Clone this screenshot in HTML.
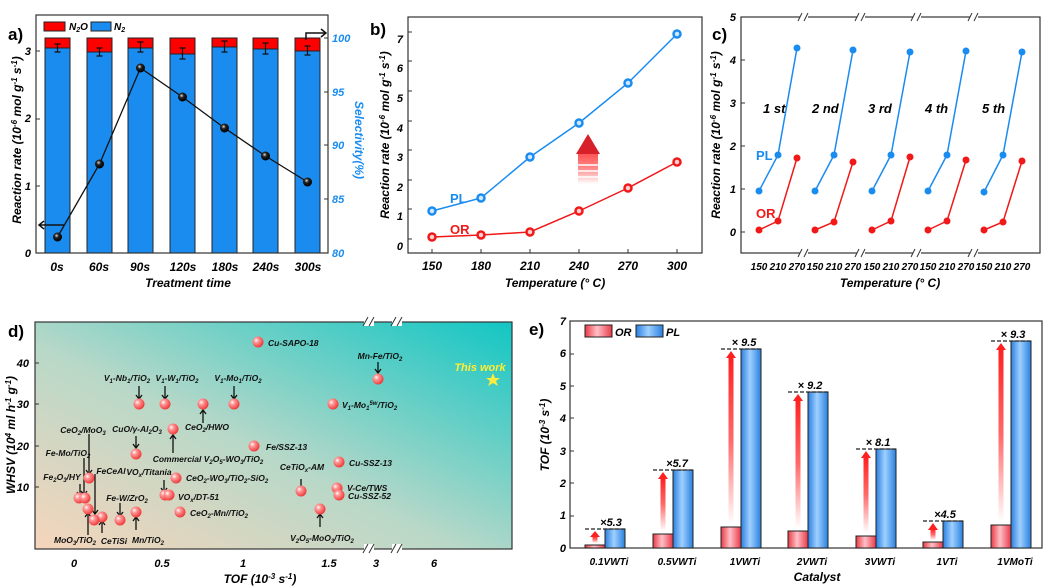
<!DOCTYPE html>
<html><head><meta charset="utf-8"><style>
body{margin:0;background:#fff}
svg{display:block;font-family:"Liberation Sans",Arial,sans-serif;font-weight:bold;font-style:italic}
</style></head><body>
<svg width="1043" height="586" viewBox="0 0 1043 586" xmlns="http://www.w3.org/2000/svg">
<defs>
<radialGradient id="ball" cx="0.35" cy="0.35" r="0.7"><stop offset="0" stop-color="#fff"/><stop offset="0.3" stop-color="#f99"/><stop offset="1" stop-color="#e33"/></radialGradient>
<radialGradient id="bk" cx="0.4" cy="0.35" r="0.6"><stop offset="0" stop-color="#ddd"/><stop offset="0.4" stop-color="#222"/><stop offset="1" stop-color="#000"/></radialGradient>
<linearGradient id="bgd" x1="0" y1="1" x2="1" y2="0"><stop offset="0" stop-color="#f6d5bb"/><stop offset="0.45" stop-color="#b8d8c8"/><stop offset="1" stop-color="#12c6c4"/></linearGradient>
<linearGradient id="rb" x1="0" y1="0" x2="1" y2="0"><stop offset="0" stop-color="#ea3a44"/><stop offset="0.45" stop-color="#ffc0c8"/><stop offset="1" stop-color="#e83a48"/></linearGradient>
<linearGradient id="bb" x1="0" y1="0" x2="1" y2="0"><stop offset="0" stop-color="#2a7fe0"/><stop offset="0.45" stop-color="#9fd0ff"/><stop offset="1" stop-color="#2a80e0"/></linearGradient>
<linearGradient id="ar" x1="0" y1="1" x2="0" y2="0"><stop offset="0" stop-color="#ff2a2a" stop-opacity="0"/><stop offset="0.5" stop-color="#ff2a2a" stop-opacity="0.7"/><stop offset="1" stop-color="#ff2020"/></linearGradient>
</defs>

<!-- ===== Panel a ===== -->
<text x="8" y="40" font-size="17" font-style="normal">a)</text>
<g stroke="#222" stroke-width="1">
<rect x="45" y="38" width="25" height="10" fill="#f00"/><rect x="45" y="48" width="25" height="205" fill="#1a8cf0"/>
<rect x="87" y="38" width="25" height="14" fill="#f00"/><rect x="87" y="52" width="25" height="201" fill="#1a8cf0"/>
<rect x="128" y="38" width="25" height="10" fill="#f00"/><rect x="128" y="48" width="25" height="205" fill="#1a8cf0"/>
<rect x="170" y="38" width="25" height="16" fill="#f00"/><rect x="170" y="54" width="25" height="199" fill="#1a8cf0"/>
<rect x="212" y="38" width="25" height="9" fill="#f00"/><rect x="212" y="47" width="25" height="206" fill="#1a8cf0"/>
<rect x="253" y="38" width="25" height="11" fill="#f00"/><rect x="253" y="49" width="25" height="204" fill="#1a8cf0"/>
<rect x="295" y="38" width="25" height="13" fill="#f00"/><rect x="295" y="51" width="25" height="202" fill="#1a8cf0"/>
</g>
<g stroke="#111" stroke-width="1.2" fill="none">
<path d="M57.5 44v8M54.5 44h6M54.5 52h6M99.5 48v8M96.5 48h6M96.5 56h6M140.5 42v10M137.5 42h6M137.5 52h6M182.5 48v11M179.5 48h6M179.5 59h6M224.5 41v11M221.5 41h6M221.5 52h6M265.5 43v11M262.5 43h6M262.5 54h6M307.5 46v9M304.5 46h6M304.5 55h6"/>
<polyline points="57.5,237 99.5,164 140.5,68 182.5,97 224.5,128 265.5,156 307.5,182" stroke="#111" stroke-width="1.3"/>
<path d="M64 225H40M44 221l-5 4 5 4" stroke-width="1.5"/>
<path d="M306 40v-7h20M321 29l5 4-5 4" stroke-width="1.5"/>
</g>
<g fill="url(#bk)"><circle cx="57.5" cy="237" r="4.5"/><circle cx="99.5" cy="164" r="4.5"/><circle cx="140.5" cy="68" r="4.5"/><circle cx="182.5" cy="97" r="4.5"/><circle cx="224.5" cy="128" r="4.5"/><circle cx="265.5" cy="156" r="4.5"/><circle cx="307.5" cy="182" r="4.5"/></g>
<rect x="36" y="15" width="292" height="238" fill="none" stroke="#333" stroke-width="1.2"/>
<rect x="44" y="22" width="21" height="9" fill="#f00" stroke="#222"/><text x="69" y="30" font-size="10">N<tspan font-size="7" dy="2">2</tspan><tspan dy="-2">O</tspan></text>
<rect x="91" y="22" width="20" height="9" fill="#1a8cf0" stroke="#222"/><text x="114" y="30" font-size="10">N<tspan font-size="7" dy="2">2</tspan></text>
<g font-size="11" text-anchor="end"><text x="31" y="257">0</text><text x="31" y="190">1</text><text x="31" y="122">2</text><text x="31" y="55">3</text></g>
<g stroke="#333"><path d="M36 186h4M36 119h4M36 51h4M328 38h-4M328 92h-4M328 145h-4M328 199h-4"/></g>
<g font-size="11" fill="#1a8cf0"><text x="332" y="42">100</text><text x="332" y="96">95</text><text x="332" y="149">90</text><text x="332" y="203">85</text><text x="332" y="257">80</text></g>
<g font-size="12" text-anchor="middle"><text x="57" y="271">0s</text><text x="99" y="271">60s</text><text x="140" y="271">90s</text><text x="183" y="271">120s</text><text x="225" y="271">180s</text><text x="266" y="271">240s</text><text x="308" y="271">300s</text></g>
<text x="188" y="287" font-size="12" text-anchor="middle">Treatment time</text>
<text transform="translate(21,140) rotate(-90)" font-size="12" text-anchor="middle">Reaction rate (10<tspan font-size="8" dy="-4">-6</tspan><tspan dy="4"> mol g</tspan><tspan font-size="8" dy="-4">-1</tspan><tspan dy="4"> s</tspan><tspan font-size="8" dy="-4">-1</tspan><tspan dy="4">)</tspan></text>
<text transform="translate(355,140) rotate(90)" font-size="12" text-anchor="middle" fill="#1a8cf0">Selectivity(%)</text>

<!-- ===== Panel b ===== -->
<text x="370" y="35" font-size="17" font-style="normal">b)</text>
<rect x="408" y="17" width="294" height="236" fill="none" stroke="#333" stroke-width="1.2"/>
<g font-size="11" text-anchor="end"><text x="403" y="250">0</text><text x="403" y="220">1</text><text x="403" y="191">2</text><text x="403" y="161">3</text><text x="403" y="132">4</text><text x="403" y="102">5</text><text x="403" y="72">6</text><text x="403" y="43">7</text></g>
<g stroke="#333"><path d="M408 239h4M408 209h4M408 180h4M408 150h4M408 121h4M408 91h4M408 61h4M408 32h4M432 253v-4M481 253v-4M530 253v-4M579 253v-4M628 253v-4M677 253v-4"/></g>
<g font-size="12" text-anchor="middle"><text x="432" y="270">150</text><text x="481" y="270">180</text><text x="530" y="270">210</text><text x="579" y="270">240</text><text x="628" y="270">270</text><text x="677" y="270">300</text></g>
<text x="555" y="287" font-size="12" text-anchor="middle">Temperature (° C)</text>
<text transform="translate(389,135) rotate(-90)" font-size="12" text-anchor="middle">Reaction rate (10<tspan font-size="8" dy="-4">-6</tspan><tspan dy="4"> mol g</tspan><tspan font-size="8" dy="-4">-1</tspan><tspan dy="4"> s</tspan><tspan font-size="8" dy="-4">-1</tspan><tspan dy="4">)</tspan></text>
<polyline points="432,211 481,198 530,157 579,123 628,83 677,34" fill="none" stroke="#1a8cf0" stroke-width="1.5"/>
<polyline points="432,237 481,235 530,232 579,211 628,188 677,162" fill="none" stroke="#f01818" stroke-width="1.5"/>
<g fill="#cfe6ff" stroke="#1a8cf0" stroke-width="2.5"><circle cx="432" cy="211" r="3.5"/><circle cx="481" cy="198" r="3.5"/><circle cx="530" cy="157" r="3.5"/><circle cx="579" cy="123" r="3.5"/><circle cx="628" cy="83" r="3.5"/><circle cx="677" cy="34" r="3.5"/></g>
<g fill="#ffd0d0" stroke="#f01818" stroke-width="2.5"><circle cx="432" cy="237" r="3.5"/><circle cx="481" cy="235" r="3.5"/><circle cx="530" cy="232" r="3.5"/><circle cx="579" cy="211" r="3.5"/><circle cx="628" cy="188" r="3.5"/><circle cx="677" cy="162" r="3.5"/></g>
<rect x="578" y="152" width="20" height="32" fill="url(#ar)" opacity="0.8"/>
<polygon points="576,154 588,134 600,154" fill="#d8202a"/>
<g stroke="#fff" stroke-width="1.5"><path d="M578 165h20M578 171h20M578 177h20"/></g>
<text x="450" y="203" font-size="13" font-style="normal" fill="#1a8cf0">PL</text>
<text x="450" y="234" font-size="13" font-style="normal" fill="#f01818">OR</text>

<!-- ===== Panel c ===== -->
<text x="712" y="40" font-size="17" font-style="normal">c)</text>
<rect x="741" y="17" width="299" height="236" fill="none" stroke="#333" stroke-width="1.2"/>
<g fill="#fff"><rect x="800" y="12" width="8" height="10"/><rect x="857" y="12" width="8" height="10"/><rect x="913" y="12" width="8" height="10"/><rect x="970" y="12" width="8" height="10"/><rect x="800" y="248" width="8" height="10"/><rect x="857" y="248" width="8" height="10"/><rect x="913" y="248" width="8" height="10"/><rect x="970" y="248" width="8" height="10"/></g>
<g stroke="#333" stroke-width="1"><path d="M798 21l4-8M804 21l4-8M855 21l4-8M861 21l4-8M911 21l4-8M917 21l4-8M968 21l4-8M974 21l4-8M798 257l4-8M804 257l4-8M855 257l4-8M861 257l4-8M911 257l4-8M917 257l4-8M968 257l4-8M974 257l4-8"/></g>
<g font-size="11" text-anchor="end"><text x="736" y="236">0</text><text x="736" y="193">1</text><text x="736" y="150">2</text><text x="736" y="107">3</text><text x="736" y="64">4</text><text x="736" y="21">5</text></g>
<g stroke="#333"><path d="M741 232h4M741 189h4M741 146h4M741 103h4M741 60h4"/></g>
<g font-size="10" text-anchor="middle">
<text x="759" y="270">150</text><text x="778" y="270">210</text><text x="797" y="270">270</text>
<text x="815" y="270">150</text><text x="834" y="270">210</text><text x="853" y="270">270</text>
<text x="872" y="270">150</text><text x="891" y="270">210</text><text x="910" y="270">270</text>
<text x="928" y="270">150</text><text x="947" y="270">210</text><text x="966" y="270">270</text>
<text x="984" y="270">150</text><text x="1003" y="270">210</text><text x="1022" y="270">270</text></g>
<text x="890" y="287" font-size="12" text-anchor="middle">Temperature (° C)</text>
<text transform="translate(720,135) rotate(-90)" font-size="12" text-anchor="middle">Reaction rate (10<tspan font-size="8" dy="-4">-6</tspan><tspan dy="4"> mol g</tspan><tspan font-size="8" dy="-4">-1</tspan><tspan dy="4"> s</tspan><tspan font-size="8" dy="-4">-1</tspan><tspan dy="4">)</tspan></text>
<g font-size="13"><text x="763" y="113">1 st</text><text x="812" y="113">2 nd</text><text x="868" y="113">3 rd</text><text x="925" y="113">4 th</text><text x="982" y="113">5 th</text></g>
<g fill="none" stroke-width="1.5">
<polyline stroke="#1a8cf0" points="759,191 778,155 797,48"/><polyline stroke="#1a8cf0" points="815,191 834,155 853,50"/><polyline stroke="#1a8cf0" points="872,191 891,155 910,52"/><polyline stroke="#1a8cf0" points="928,191 947,155 966,51"/><polyline stroke="#1a8cf0" points="984,192 1003,155 1022,52"/>
<polyline stroke="#f01818" points="759,230 778,221 797,158"/><polyline stroke="#f01818" points="815,230 834,222 853,162"/><polyline stroke="#f01818" points="872,230 891,221 910,157"/><polyline stroke="#f01818" points="928,230 947,221 966,160"/><polyline stroke="#f01818" points="984,230 1003,222 1022,161"/>
</g>
<g fill="#1a8cf0"><circle cx="759" cy="191" r="3.5"/><circle cx="778" cy="155" r="3.5"/><circle cx="797" cy="48" r="3.5"/><circle cx="815" cy="191" r="3.5"/><circle cx="834" cy="155" r="3.5"/><circle cx="853" cy="50" r="3.5"/><circle cx="872" cy="191" r="3.5"/><circle cx="891" cy="155" r="3.5"/><circle cx="910" cy="52" r="3.5"/><circle cx="928" cy="191" r="3.5"/><circle cx="947" cy="155" r="3.5"/><circle cx="966" cy="51" r="3.5"/><circle cx="984" cy="192" r="3.5"/><circle cx="1003" cy="155" r="3.5"/><circle cx="1022" cy="52" r="3.5"/></g>
<g fill="#f01818"><circle cx="759" cy="230" r="3.5"/><circle cx="778" cy="221" r="3.5"/><circle cx="797" cy="158" r="3.5"/><circle cx="815" cy="230" r="3.5"/><circle cx="834" cy="222" r="3.5"/><circle cx="853" cy="162" r="3.5"/><circle cx="872" cy="230" r="3.5"/><circle cx="891" cy="221" r="3.5"/><circle cx="910" cy="157" r="3.5"/><circle cx="928" cy="230" r="3.5"/><circle cx="947" cy="221" r="3.5"/><circle cx="966" cy="160" r="3.5"/><circle cx="984" cy="230" r="3.5"/><circle cx="1003" cy="222" r="3.5"/><circle cx="1022" cy="161" r="3.5"/></g>
<text x="756" y="160" font-size="13" font-style="normal" fill="#1a8cf0">PL</text>
<text x="756" y="218" font-size="13" font-style="normal" fill="#f01818">OR</text>

<!-- ===== Panel d ===== -->
<text x="8" y="337" font-size="17" font-style="normal">d)</text>
<rect x="35" y="322" width="477" height="227" fill="url(#bgd)" stroke="#333" stroke-width="1.2"/>
<g fill="#fff"><rect x="364" y="316" width="10" height="10"/><rect x="392" y="316" width="10" height="10"/><rect x="364" y="544" width="10" height="10"/><rect x="392" y="544" width="10" height="10"/></g>
<g stroke="#333"><path d="M363 326l5-9M369 326l5-9M391 326l5-9M397 326l5-9M363 553l5-9M369 553l5-9M391 553l5-9M397 553l5-9"/></g>
<g font-size="11" text-anchor="end"><text x="29" y="491">10</text><text x="29" y="450">20</text><text x="29" y="408">30</text><text x="29" y="367">40</text></g>
<g stroke="#333"><path d="M35 487h4M35 446h4M35 404h4M35 363h4"/></g>
<g font-size="11" text-anchor="middle"><text x="74" y="567">0</text><text x="162" y="567">0.5</text><text x="243" y="567">1</text><text x="329" y="567">1.5</text><text x="376" y="567">3</text><text x="434" y="567">6</text></g>
<text x="260" y="583" font-size="12" text-anchor="middle">TOF (10<tspan font-size="8" dy="-4">-3</tspan><tspan dy="4"> s</tspan><tspan font-size="8" dy="-4">-1</tspan><tspan dy="4">)</tspan></text>
<text transform="translate(15,435) rotate(-90)" font-size="12" text-anchor="middle">WHSV (10<tspan font-size="8" dy="-4">4</tspan><tspan dy="4"> ml h</tspan><tspan font-size="8" dy="-4">-1</tspan><tspan dy="4"> g</tspan><tspan font-size="8" dy="-4">-1</tspan><tspan dy="4">)</tspan></text>
<g stroke="#111" stroke-width="1.3" fill="none">
<path d="M378 362v10M375 369l3 4 3-4M139 386v12M136 395l3 4 3-4M165 386v12M162 395l3 4 3-4M234 386v12M231 395l3 4 3-4"/>
<path d="M203 423v-12M200 414l3-4 3 4M173 453v-17M170 439l3-4 3 4M89 434v39M86 470l3 4 3-4M136 436v11M133 444l3 4 3-4"/>
<path d="M301 479v11M298 487l3 4 3-4M320 527v-12M317 518l3-4 3 4M84 458v36M81 491l3 4 3-4M80 484v11M77 492l3 4 3-4"/>
<path d="M95 474v39M92 510l3 4 3-4M164 480v11M161 488l3 4 3-4M120 503v12M117 512l3 4 3-4M136 530v-12M133 521l3-4 3 4M88 535v-21M85 517l3-4 3 4M102 533v-11M99 525l3-4 3 4"/>
</g>
<g fill="url(#ball)">
<circle cx="258" cy="342" r="5.5"/><circle cx="378" cy="379" r="5.5"/><circle cx="333" cy="404" r="5.5"/><circle cx="139" cy="404" r="5.5"/><circle cx="165" cy="404" r="5.5"/><circle cx="234" cy="404" r="5.5"/><circle cx="203" cy="404" r="5.5"/><circle cx="173" cy="429" r="5.5"/><circle cx="136" cy="454" r="5.5"/><circle cx="254" cy="446" r="5.5"/><circle cx="339" cy="462" r="5.5"/><circle cx="301" cy="491" r="5.5"/><circle cx="337" cy="488" r="5.5"/><circle cx="339" cy="495" r="5.5"/><circle cx="320" cy="509" r="5.5"/><circle cx="89" cy="478" r="5.5"/><circle cx="79" cy="498" r="5.5"/><circle cx="85" cy="498" r="5.5"/><circle cx="165" cy="495" r="5.5"/><circle cx="169" cy="495" r="5.5"/><circle cx="176" cy="478" r="5.5"/><circle cx="120" cy="520" r="5.5"/><circle cx="136" cy="512" r="5.5"/><circle cx="180" cy="512" r="5.5"/><circle cx="88" cy="509" r="5.5"/><circle cx="102" cy="517" r="5.5"/><circle cx="94" cy="520" r="5.5"/>
</g>
<polygon points="493,373 495,378 500,378 496,381 498,386 493,383 488,386 490,381 486,378 491,378" fill="#ffeb3b"/>
<text x="480" y="371" font-size="11" fill="#ffee33" text-anchor="middle">This work</text>
<g font-size="8.5" fill="#111">
<text x="268" y="346">Cu-SAPO-18</text>
<text x="380" y="359" text-anchor="middle">Mn-Fe/TiO<tspan font-size="6" dy="2">2</tspan></text>
<text x="342" y="408">V<tspan font-size="6" dy="2">1</tspan><tspan dy="-2">-Mo</tspan><tspan font-size="6" dy="2">1</tspan><tspan font-size="6" dy="-5">5w</tspan><tspan dy="3">/TiO</tspan><tspan font-size="6" dy="2">2</tspan></text>
<text x="127" y="381" text-anchor="middle">V<tspan font-size="6" dy="2">1</tspan><tspan dy="-2">-Nb</tspan><tspan font-size="6" dy="2">1</tspan><tspan dy="-2">/TiO</tspan><tspan font-size="6" dy="2">2</tspan></text>
<text x="177" y="381" text-anchor="middle">V<tspan font-size="6" dy="2">1</tspan><tspan dy="-2">-W</tspan><tspan font-size="6" dy="2">1</tspan><tspan dy="-2">/TiO</tspan><tspan font-size="6" dy="2">2</tspan></text>
<text x="238" y="381" text-anchor="middle">V<tspan font-size="6" dy="2">1</tspan><tspan dy="-2">-Mo</tspan><tspan font-size="6" dy="2">1</tspan><tspan dy="-2">/TiO</tspan><tspan font-size="6" dy="2">2</tspan></text>
<text x="207" y="430" text-anchor="middle">CeO<tspan font-size="6" dy="2">2</tspan><tspan dy="-2">/HWO</tspan></text>
<text x="208" y="462" text-anchor="middle">Commercial V<tspan font-size="6" dy="2">2</tspan><tspan dy="-2">O</tspan><tspan font-size="6" dy="2">5</tspan><tspan dy="-2">-WO</tspan><tspan font-size="6" dy="2">3</tspan><tspan dy="-2">/TiO</tspan><tspan font-size="6" dy="2">2</tspan></text>
<text x="83" y="433" text-anchor="middle">CeO<tspan font-size="6" dy="2">2</tspan><tspan dy="-2">/MoO</tspan><tspan font-size="6" dy="2">3</tspan></text>
<text x="137" y="432" text-anchor="middle">CuO/γ-Al<tspan font-size="6" dy="2">2</tspan><tspan dy="-2">O</tspan><tspan font-size="6" dy="2">3</tspan></text>
<text x="266" y="450">Fe/SSZ-13</text>
<text x="349" y="466">Cu-SSZ-13</text>
<text x="302" y="470" text-anchor="middle">CeTiO<tspan font-size="6" dy="2">x</tspan><tspan dy="-2">-AM</tspan></text>
<text x="347" y="491">V-Ce/TWS</text>
<text x="348" y="499">Cu-SSZ-52</text>
<text x="322" y="541" text-anchor="middle">V<tspan font-size="6" dy="2">2</tspan><tspan dy="-2">O</tspan><tspan font-size="6" dy="2">5</tspan><tspan dy="-2">-MoO</tspan><tspan font-size="6" dy="2">3</tspan><tspan dy="-2">/TiO</tspan><tspan font-size="6" dy="2">2</tspan></text>
<text x="68" y="456" text-anchor="middle">Fe-Mo/TiO<tspan font-size="6" dy="2">2</tspan></text>
<text x="62" y="480" text-anchor="middle">Fe<tspan font-size="6" dy="2">2</tspan><tspan dy="-2">O</tspan><tspan font-size="6" dy="2">3</tspan><tspan dy="-2">/HY</tspan></text>
<text x="111" y="474" text-anchor="middle">FeCeAl</text>
<text x="149" y="475" text-anchor="middle">VO<tspan font-size="6" dy="2">x</tspan><tspan dy="-2">/Titania</tspan></text>
<text x="186" y="481">CeO<tspan font-size="6" dy="2">2</tspan><tspan dy="-2">-WO</tspan><tspan font-size="6" dy="2">3</tspan><tspan dy="-2">/TiO</tspan><tspan font-size="6" dy="2">2</tspan><tspan dy="-2">-SiO</tspan><tspan font-size="6" dy="2">2</tspan></text>
<text x="178" y="500">VO<tspan font-size="6" dy="2">x</tspan><tspan dy="-2">/DT-51</tspan></text>
<text x="127" y="501" text-anchor="middle">Fe-W/ZrO<tspan font-size="6" dy="2">2</tspan></text>
<text x="190" y="516">CeO<tspan font-size="6" dy="2">2</tspan><tspan dy="-2">-Mn//TiO</tspan><tspan font-size="6" dy="2">2</tspan></text>
<text x="148" y="543" text-anchor="middle">Mn/TiO<tspan font-size="6" dy="2">2</tspan></text>
<text x="75" y="543" text-anchor="middle">MoO<tspan font-size="6" dy="2">3</tspan><tspan dy="-2">/TiO</tspan><tspan font-size="6" dy="2">2</tspan></text>
<text x="114" y="544" text-anchor="middle">CeTiSi</text>
</g>

<!-- ===== Panel e ===== -->
<text x="529" y="335" font-size="17" font-style="normal">e)</text>
<rect x="570" y="321" width="472" height="227" fill="none" stroke="#333" stroke-width="1.2"/>
<g font-size="11" text-anchor="end"><text x="566" y="552">0</text><text x="566" y="519">1</text><text x="566" y="487">2</text><text x="566" y="455">3</text><text x="566" y="422">4</text><text x="566" y="390">5</text><text x="566" y="357">6</text><text x="566" y="325">7</text></g>
<g stroke="#333"><path d="M570 516h4M570 483h4M570 451h4M570 418h4M570 386h4M570 354h4"/></g>
<text transform="translate(549,435) rotate(-90)" font-size="12" text-anchor="middle">TOF (10<tspan font-size="8" dy="-4">-3</tspan><tspan dy="4"> s</tspan><tspan font-size="8" dy="-4">-1</tspan><tspan dy="4">)</tspan></text>
<g font-size="10" text-anchor="middle"><text x="609" y="565">0.1VWTi</text><text x="677" y="565">0.5VWTi</text><text x="745" y="565">1VWTi</text><text x="812" y="565">2VWTi</text><text x="880" y="565">3VWTi</text><text x="947" y="565">1VTi</text><text x="1015" y="565">1VMoTi</text></g>
<text x="817" y="581" font-size="12" text-anchor="middle">Catalyst</text>
<g stroke="#222" stroke-width="1">
<rect x="585" y="545" width="20" height="3" fill="url(#rb)"/><rect x="605" y="529" width="20" height="19" fill="url(#bb)"/>
<rect x="653" y="534" width="20" height="14" fill="url(#rb)"/><rect x="673" y="470" width="20" height="78" fill="url(#bb)"/>
<rect x="721" y="527" width="20" height="21" fill="url(#rb)"/><rect x="741" y="349" width="20" height="199" fill="url(#bb)"/>
<rect x="788" y="531" width="20" height="17" fill="url(#rb)"/><rect x="808" y="392" width="20" height="156" fill="url(#bb)"/>
<rect x="856" y="536" width="20" height="12" fill="url(#rb)"/><rect x="876" y="449" width="20" height="99" fill="url(#bb)"/>
<rect x="923" y="542" width="20" height="6" fill="url(#rb)"/><rect x="943" y="521" width="20" height="27" fill="url(#bb)"/>
<rect x="991" y="525" width="20" height="23" fill="url(#rb)"/><rect x="1011" y="341" width="20" height="207" fill="url(#bb)"/>
</g>
<g stroke="#222" stroke-width="1.3" stroke-dasharray="4,2"><path d="M585 529h40M653 470h40M721 349h40M788 392h40M856 449h40M923 521h40M991 341h40"/></g>
<g fill="url(#ar)">
<rect x="592.5" y="536" width="5" height="7"/><rect x="660.5" y="478" width="5" height="53"/><rect x="728.5" y="357" width="5" height="167"/><rect x="795.5" y="400" width="5" height="128"/><rect x="863.5" y="457" width="5" height="76"/><rect x="930.5" y="529" width="5" height="11"/><rect x="998.5" y="349" width="5" height="173"/>
</g>
<g fill="#ff2020"><polygon points="590,537 595,531 600,537"/><polygon points="658,479 663,472 668,479"/><polygon points="726,358 731,351 736,358"/><polygon points="793,401 798,394 803,401"/><polygon points="861,458 866,451 871,458"/><polygon points="928,530 933,523 938,530"/><polygon points="996,350 1001,343 1006,350"/></g>
<g font-size="11" text-anchor="middle"><text x="611" y="526">×5.3</text><text x="677" y="467">×5.7</text><text x="744" y="346">× 9.5</text><text x="810" y="389">× 9.2</text><text x="878" y="446">× 8.1</text><text x="945" y="518">×4.5</text><text x="1013" y="338">× 9.3</text></g>
<rect x="585" y="325" width="27" height="12" fill="url(#rb)" stroke="#222"/><text x="615" y="336" font-size="11">OR</text>
<rect x="636" y="325" width="27" height="12" fill="url(#bb)" stroke="#222"/><text x="666" y="336" font-size="11">PL</text>
</svg>
</body></html>
